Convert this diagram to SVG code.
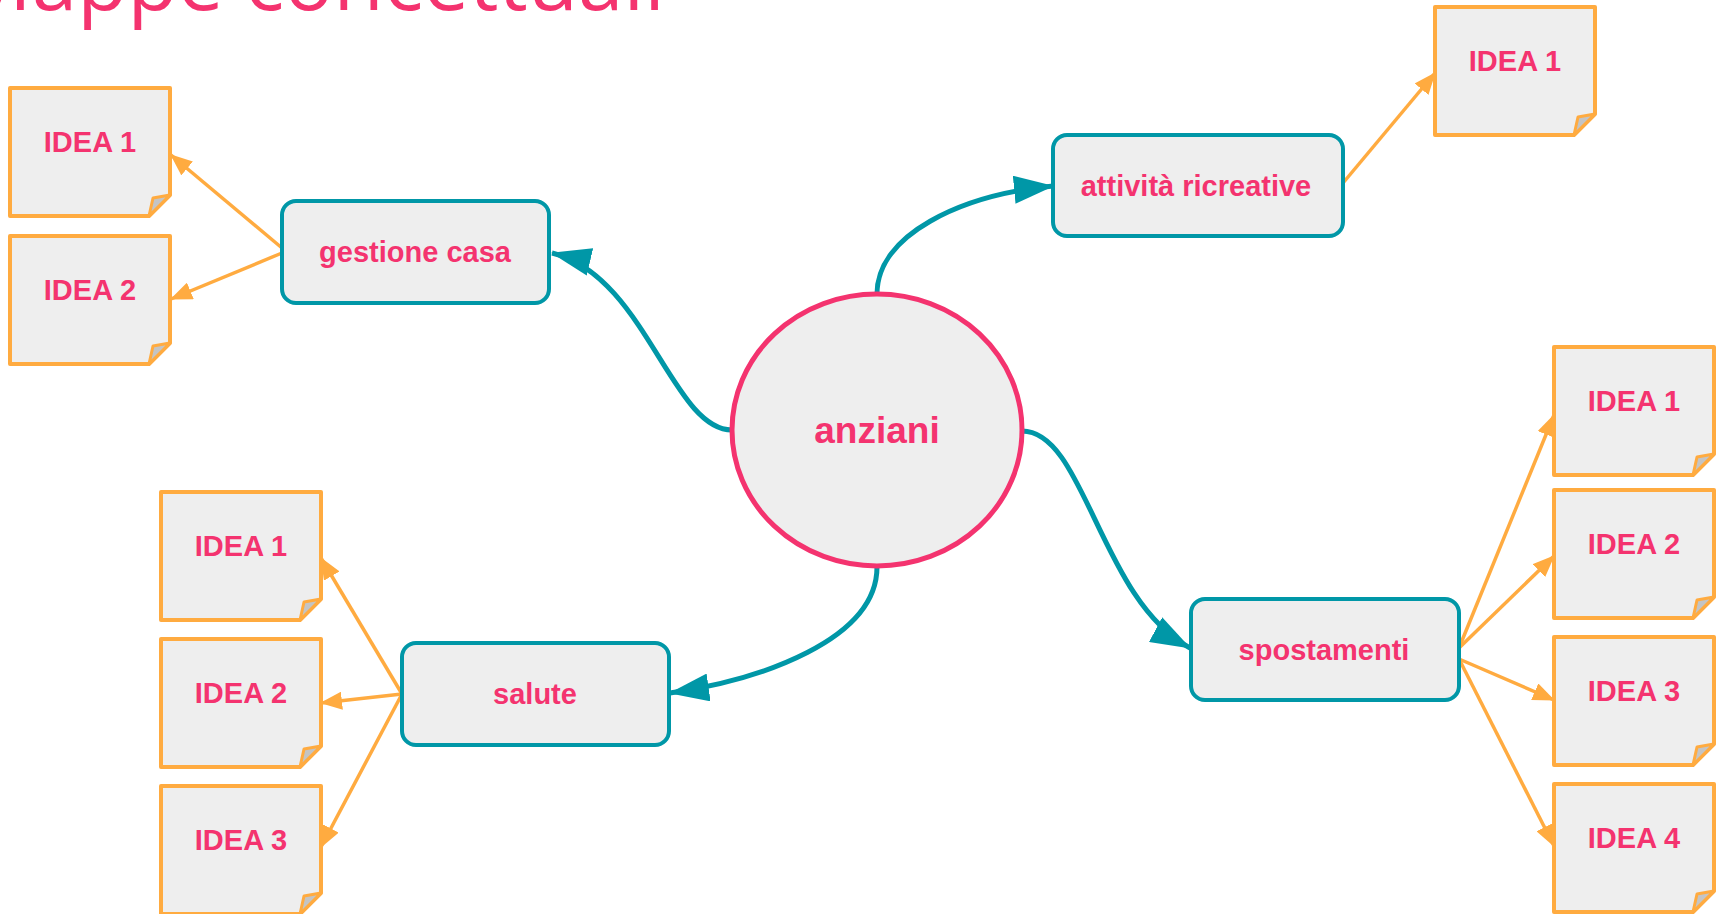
<svg xmlns="http://www.w3.org/2000/svg" width="1717" height="914" viewBox="0 0 1717 914">
<style>
.title{font-family:"Open Sans","Liberation Sans",sans-serif;font-weight:400;fill:#F4336F}
.lbl{font-family:"Liberation Sans",Arial,sans-serif;font-weight:bold;fill:#F4336F;text-anchor:middle}
.topic{fill:#EEEEEE;stroke:#0097A7;stroke-width:4}
.note{fill:#EEEEEE;stroke:#FFAB40;stroke-width:4;stroke-linejoin:round}
.fold{fill:#C4C4C4;stroke:#FFAB40;stroke-width:3;stroke-linejoin:round}
.main{fill:none;stroke:#0097A7;stroke-width:5}
.sub{fill:none;stroke:#FFAB40;stroke-width:3.5}
</style>
<defs>
<marker id="ta" markerUnits="userSpaceOnUse" markerWidth="40" markerHeight="28" viewBox="0 0 40 28" refX="39" refY="14" orient="auto"><path d="M0,0 L40,14 L0,28 Z" fill="#0097A7"/></marker>
<marker id="oa" markerUnits="userSpaceOnUse" markerWidth="22" markerHeight="18" viewBox="0 0 22 18" refX="21" refY="9" orient="auto"><path d="M0,0 L22,9 L0,18 Z" fill="#FFAB40"/></marker>
<g id="noteShape">
<path class="note" d="M0,0 H160 V107 L139,128 H0 Z"/>
<path class="fold" d="M139,128 L143,110 L160,107 Z"/>
</g>
</defs>

<text class="title" x="-42" y="10" font-size="82">Mappe concettuali</text>

<g id="connectors">
<path class="main" d="M732,430 C672,430 645,275 552,253" marker-end="url(#ta)"/>
<path class="main" d="M877,294 C877,235 960,195 1053,186" marker-end="url(#ta)"/>
<path class="main" d="M1022,431 C1085,431 1100,600 1190,648" marker-end="url(#ta)"/>
<path class="main" d="M877,567 C877,640 760,680 670,693" marker-end="url(#ta)"/>
<path class="sub" d="M282,248 L171,155" marker-end="url(#oa)"/>
<path class="sub" d="M282,253 L171,299" marker-end="url(#oa)"/>
<path class="sub" d="M1343,183 L1435,73" marker-end="url(#oa)"/>
<path class="sub" d="M1459,648 L1554,415" marker-end="url(#oa)"/>
<path class="sub" d="M1459,648 L1554,556" marker-end="url(#oa)"/>
<path class="sub" d="M1459,659 L1554,700" marker-end="url(#oa)"/>
<path class="sub" d="M1459,659 L1554,846" marker-end="url(#oa)"/>
<path class="sub" d="M402,694 L321,558" marker-end="url(#oa)"/>
<path class="sub" d="M402,694 L321,703" marker-end="url(#oa)"/>
<path class="sub" d="M402,694 L321,847" marker-end="url(#oa)"/>
</g>

<g id="anziani">
<ellipse cx="877" cy="430" rx="145" ry="136" fill="#EEEEEE" stroke="#F4336F" stroke-width="5"/>
<text class="lbl" x="877" y="443" font-size="37">anziani</text>
</g>

<g id="gestione-casa">
<rect class="topic" x="282" y="201" width="267" height="102" rx="14"/>
<text class="lbl" x="415" y="262" font-size="29">gestione casa</text>
</g>
<g id="attivita-ricreative">
<rect class="topic" x="1053" y="135" width="290" height="101" rx="14"/>
<text class="lbl" x="1196" y="196" font-size="29">attività ricreative</text>
</g>
<g id="spostamenti">
<rect class="topic" x="1191" y="599" width="268" height="101" rx="14"/>
<text class="lbl" x="1324" y="660" font-size="29">spostamenti</text>
</g>
<g id="salute">
<rect class="topic" x="402" y="643" width="267" height="102" rx="14"/>
<text class="lbl" x="535" y="704" font-size="29">salute</text>
</g>

<g id="gc-idea1" transform="translate(10,88)"><use href="#noteShape"/><text class="lbl" x="80" y="64" font-size="29">IDEA 1</text></g>
<g id="gc-idea2" transform="translate(10,236)"><use href="#noteShape"/><text class="lbl" x="80" y="64" font-size="29">IDEA 2</text></g>
<g id="ar-idea1" transform="translate(1435,7)"><use href="#noteShape"/><text class="lbl" x="80" y="64" font-size="29">IDEA 1</text></g>
<g id="sp-idea1" transform="translate(1554,347)"><use href="#noteShape"/><text class="lbl" x="80" y="64" font-size="29">IDEA 1</text></g>
<g id="sp-idea2" transform="translate(1554,490)"><use href="#noteShape"/><text class="lbl" x="80" y="64" font-size="29">IDEA 2</text></g>
<g id="sp-idea3" transform="translate(1554,637)"><use href="#noteShape"/><text class="lbl" x="80" y="64" font-size="29">IDEA 3</text></g>
<g id="sp-idea4" transform="translate(1554,784)"><use href="#noteShape"/><text class="lbl" x="80" y="64" font-size="29">IDEA 4</text></g>
<g id="sa-idea1" transform="translate(161,492)"><use href="#noteShape"/><text class="lbl" x="80" y="64" font-size="29">IDEA 1</text></g>
<g id="sa-idea2" transform="translate(161,639)"><use href="#noteShape"/><text class="lbl" x="80" y="64" font-size="29">IDEA 2</text></g>
<g id="sa-idea3" transform="translate(161,786)"><use href="#noteShape"/><text class="lbl" x="80" y="64" font-size="29">IDEA 3</text></g>
</svg>
